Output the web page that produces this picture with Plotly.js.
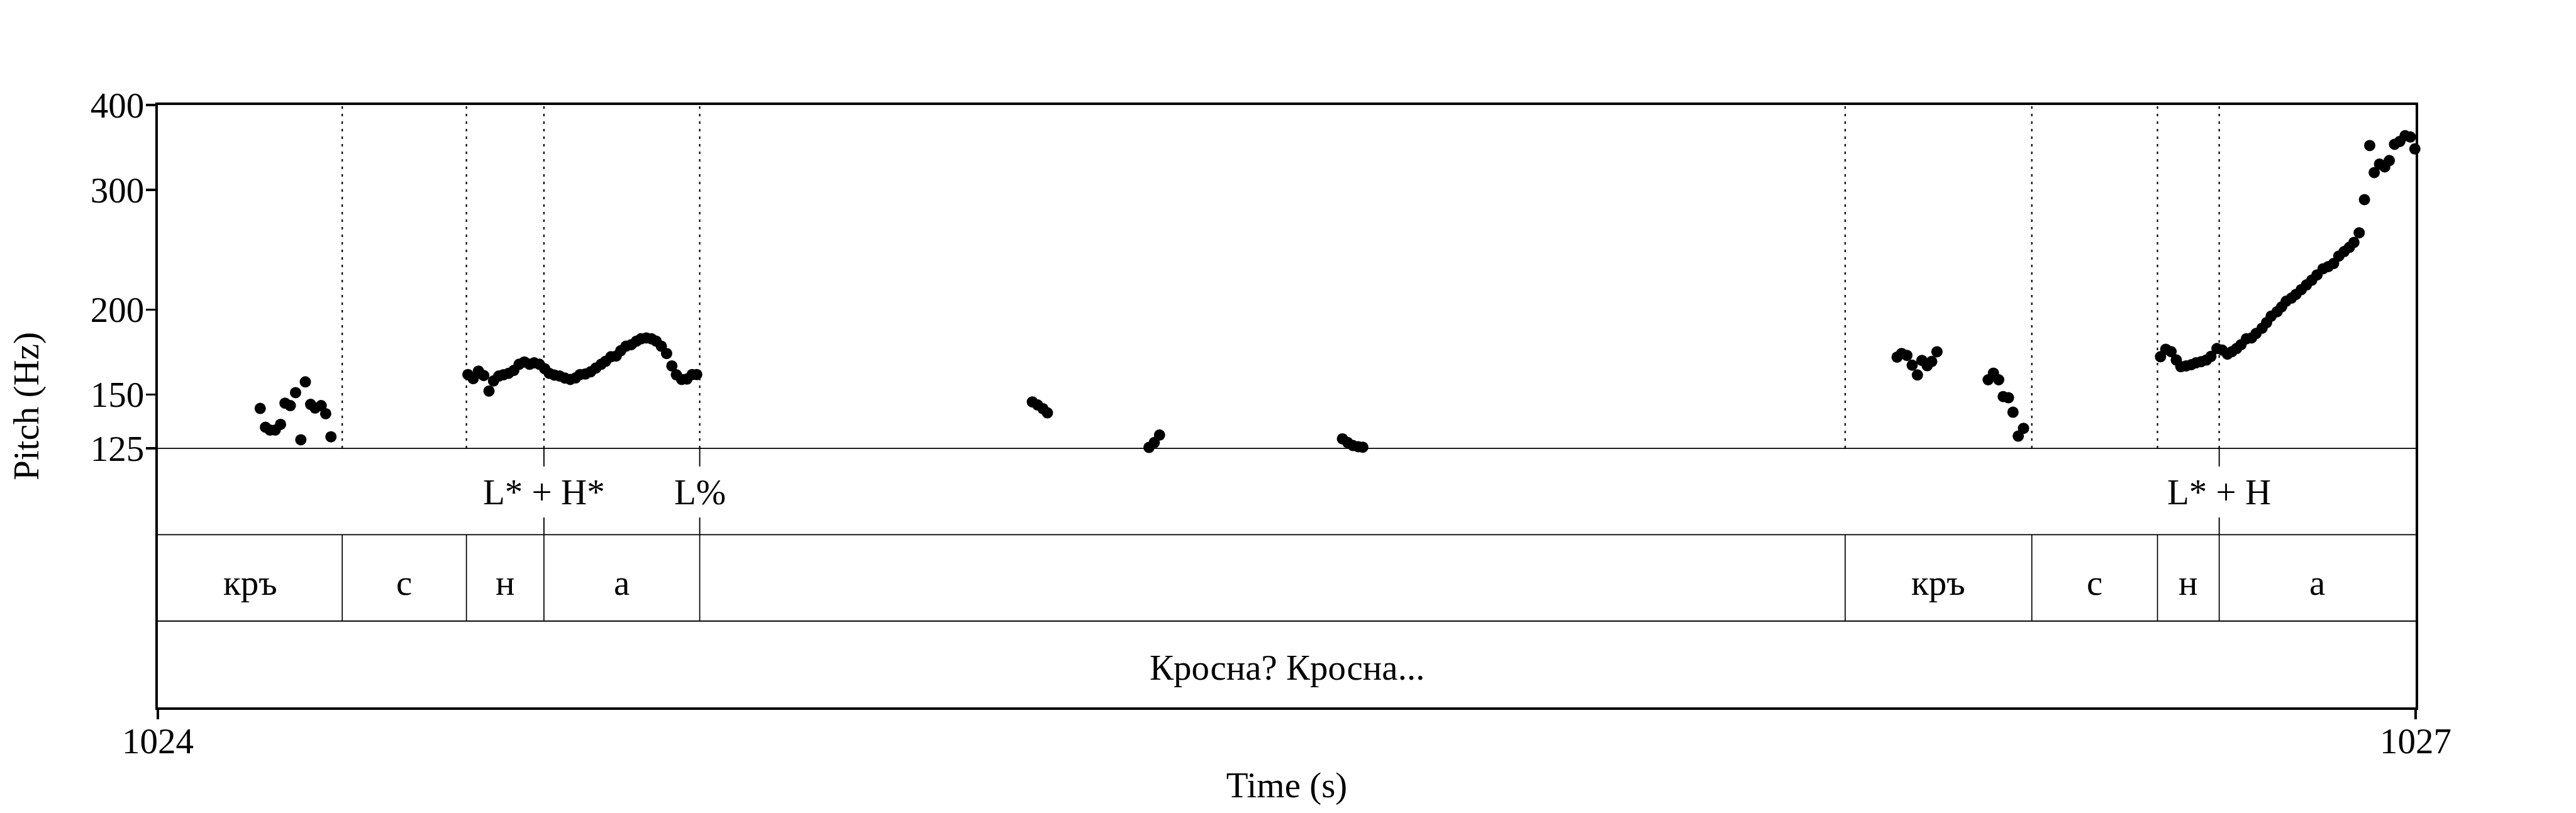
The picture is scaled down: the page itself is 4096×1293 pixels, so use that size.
<!DOCTYPE html>
<html>
<head>
<meta charset="utf-8">
<script src="https://cdn.plot.ly/plotly-3.0.1.min.js"></script>
<style>html,body{margin:0;padding:0;background:#fff;}#chart{width:4096px;height:1293px;}</style>
</head>
<body>
<div id="chart"></div>
<script>
// ---- data ----
const pitchTime = [
  1024.136, 1024.143, 1024.149, 1024.156, 1024.163, 1024.169, 1024.176, 1024.183, 1024.190, 1024.196, 1024.203, 1024.209, 1024.217, 1024.223, 1024.230,
  1024.412, 1024.419, 1024.426, 1024.433, 1024.440, 1024.446, 1024.453, 1024.459, 1024.466, 1024.473, 1024.480, 1024.487, 1024.494, 1024.500, 1024.507, 1024.514,
  1024.520, 1024.527, 1024.534, 1024.541, 1024.548, 1024.555, 1024.561, 1024.568, 1024.575, 1024.582, 1024.589, 1024.595, 1024.602, 1024.609, 1024.615, 1024.622,
  1024.629, 1024.636, 1024.642, 1024.649, 1024.656, 1024.662, 1024.669, 1024.676, 1024.683, 1024.689, 1024.696, 1024.703, 1024.710, 1024.716,
  1025.162, 1025.169, 1025.176, 1025.182,
  1025.317, 1025.324, 1025.331,
  1025.574, 1025.581, 1025.588, 1025.595, 1025.601,
  1026.311, 1026.317, 1026.324, 1026.331, 1026.338, 1026.344, 1026.351, 1026.357, 1026.364,
  1026.432, 1026.439, 1026.446, 1026.452, 1026.459, 1026.465, 1026.472, 1026.479,
  1026.661, 1026.668, 1026.675, 1026.682, 1026.688, 1026.695, 1026.702, 1026.708, 1026.715, 1026.722, 1026.728, 1026.736, 1026.743, 1026.750,
  1026.756, 1026.762, 1026.768, 1026.775, 1026.782, 1026.788, 1026.796, 1026.802, 1026.808, 1026.816, 1026.822, 1026.828, 1026.835, 1026.841,
  1026.848, 1026.855, 1026.862, 1026.869, 1026.877, 1026.884, 1026.891, 1026.898, 1026.905, 1026.912, 1026.918, 1026.925, 1026.932, 1026.939,
  1026.945, 1026.952, 1026.959, 1026.965, 1026.972, 1026.979, 1026.986, 1026.993, 1026.999
];
const pitchHz = [
  143.1, 134.3, 133.0, 133.0, 135.6, 145.7, 144.5, 151.0, 128.7, 156.6, 145.1, 143.3, 144.5, 140.6, 130.0,
  160.5, 158.3, 162.4, 160.0, 151.8, 157.1, 159.7, 160.4, 161.2, 162.8, 166.2, 167.5, 166.2, 167.0, 166.2, 163.7,
  161.2, 160.2, 159.7, 158.6, 157.9, 158.7, 160.5, 160.8, 162.0, 164.1, 166.2, 167.9, 170.5, 170.9, 174.0, 176.7,
  177.6, 179.8, 181.2, 181.7, 181.2, 179.8, 176.7, 172.4, 165.3, 160.4, 157.9, 158.1, 160.5, 160.5,
  146.3, 144.8, 143.0, 141.0,
  125.4, 127.5, 130.8,
  129.1, 127.5, 126.2, 125.7, 125.5,
  170.3, 172.4, 171.3, 165.7, 160.3, 168.4, 165.4, 167.8, 173.4,
  157.7, 161.3, 157.7, 149.0, 148.4, 141.3, 130.3, 133.8,
  170.5, 174.9, 173.5, 168.6, 164.9, 165.3, 166.0, 167.0, 167.7, 168.6, 170.7, 175.3, 174.4, 172.0,
  173.5, 175.3, 177.6, 181.2, 181.7, 184.5, 187.8, 191.4, 195.6, 198.6, 201.9, 205.8, 208.0, 210.6,
  214.0, 217.5, 221.0, 225.0, 229.7, 231.4, 233.8, 239.8, 243.5, 247.0, 251.1, 259.5, 290.3, 348.7,
  318.2, 327.5, 324.3, 331.4, 350.2, 353.6, 360.5, 359.0, 344.7
];
const pitchTicks = [125, 150, 200, 300, 400];
const timeTicks = [1024, 1027];
const syllableBounds = [1024, 1024.245, 1024.410, 1024.513, 1024.720, 1026.242, 1026.490, 1026.657, 1026.739, 1027];
const syllableLabels = ["кръ", "с", "н", "а", "", "кръ", "с", "н", "а"];
const toneTimes = [1024.513, 1024.720, 1026.739];
const toneLabels = ["L* + H*", "L%", "L* + H"];
const phraseBounds = [1024, 1027];
const phraseLabels = ["Кросна? Кросна..."];

// ---- layout geometry ----
const S = 0.718;
const FONT = "Liberation Serif, Times New Roman, serif";
const FS = 57;
const OUTER = 4.2;
const pitchMin = 125, pitchMax = 400;
const tierFrac = 574 / 1335;          // share of the plot height used by the three tiers
const tierH = tierFrac / 3;
const logTop = Math.log10(pitchMax);
const logBottom = logTop - (Math.log10(pitchMax) - Math.log10(pitchMin)) / (1 - tierFrac);

const shapes = [];
const annotations = [];
const thin = {color: "black", width: 1.9};
const txtFont = {family: FONT, size: FS, color: "black"};

// horizontal separators: pitch floor line and tier separators
[tierFrac, 2 * tierH, tierH].forEach(y => {
  shapes.push({type: "line", xref: "paper", yref: "paper", x0: 0, x1: 1, y0: y, y1: y, line: thin, layer: "above"});
});

// dotted boundary lines in pitch panel
syllableBounds.slice(1, -1).forEach(t => {
  shapes.push({type: "line", xref: "x", yref: "paper", x0: t, x1: t, y0: tierFrac, y1: 1,
    line: {color: "black", width: 2.2, dash: "4px,8px"}});
});

// syllable tier boundaries
syllableBounds.slice(1, -1).forEach(t => {
  shapes.push({type: "line", xref: "x", yref: "paper", x0: t, x1: t, y0: tierH, y1: 2 * tierH,
    line: {color: "black", width: 1.7}});
});
syllableLabels.forEach((lab, i) => {
  if (!lab) return;
  annotations.push({xref: "x", yref: "paper", x: (syllableBounds[i] + syllableBounds[i + 1]) / 2, y: 1.5 * tierH,
    yshift: -7, text: lab, showarrow: false, xanchor: "center", yanchor: "middle", font: txtFont});
});

// tone (point) tier
toneTimes.forEach((t, i) => {
  shapes.push({type: "line", xref: "x", yref: "paper", x0: t, x1: t, y0: 3 * tierH, y1: (3 - 0.21) * tierH, line: thin});
  shapes.push({type: "line", xref: "x", yref: "paper", x0: t, x1: t, y0: 2 * tierH, y1: (2 + 0.2) * tierH, line: thin});
  annotations.push({xref: "x", yref: "paper", x: t, y: 2.5 * tierH, yshift: -1, text: toneLabels[i], showarrow: false,
    xanchor: "center", yanchor: "middle", font: txtFont});
});

// phrase tier
phraseLabels.forEach((lab, i) => {
  annotations.push({xref: "x", yref: "paper", x: (phraseBounds[i] + phraseBounds[i + 1]) / 2, y: 0.5 * tierH,
    yshift: -5, text: lab, showarrow: false, xanchor: "center", yanchor: "middle", font: txtFont});
});

const trace = {
  type: "scatter", mode: "markers", x: pitchTime, y: pitchHz, cliponaxis: false,
  marker: {color: "black", size: 18, line: {width: 0}}, hoverinfo: "skip"
};

const layout = {
  width: 4096, height: 1293,
  margin: {l: 350 * S, r: 4096 - 5350 * S, t: 232 * S, b: 1293 - 1567 * S, pad: 0},
  paper_bgcolor: "white", plot_bgcolor: "white",
  showlegend: false,
  font: txtFont,
  xaxis: {
    range: [1024, 1027], tickvals: timeTicks, ticktext: timeTicks.map(String),
    ticks: "outside", ticklen: 20 * S, tickwidth: OUTER, tickcolor: "black",
    showline: true, linewidth: OUTER, linecolor: "black", mirror: true,
    showgrid: false, zeroline: false, ticklabelstandoff: -14,
    tickfont: txtFont,
    title: {text: "Time (s)", font: txtFont, standoff: 20}
  },
  yaxis: {
    type: "log", range: [logBottom, logTop], tickvals: pitchTicks, ticktext: pitchTicks.map(String),
    ticks: "outside", ticklen: 21 * S, tickwidth: 3.2, tickcolor: "black",
    showline: true, linewidth: OUTER, linecolor: "black", mirror: true,
    showgrid: false, zeroline: false, ticklabelstandoff: -9,
    tickfont: txtFont,
    title: {text: "Pitch (Hz)", font: txtFont, standoff: 65}
  },
  shapes: shapes,
  annotations: annotations
};

Plotly.newPlot("chart", [trace], layout, {displayModeBar: false, staticPlot: true});
</script>
</body>
</html>
